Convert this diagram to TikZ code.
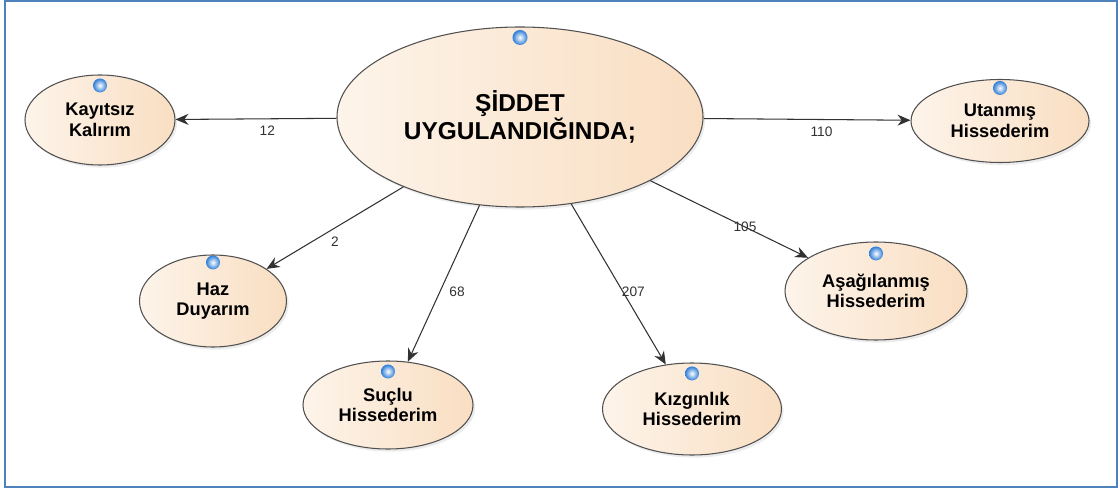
\documentclass[tikz,border=0pt]{standalone}
\usepackage{fontspec}
\setmainfont{Liberation Sans}
\usepackage{tikz}
\usetikzlibrary{shapes, arrows.meta, positioning, shadows}
\definecolor{peachlight}{RGB}{253,244,234}
\definecolor{peachdark}{RGB}{249,222,194}
\definecolor{rimgray}{RGB}{80,80,80}
\definecolor{linkgray}{RGB}{50,50,50}
\definecolor{frameblue}{RGB}{79,129,189}
\definecolor{ballblue}{RGB}{45,125,215}
\tikzstyle{centre} = [ellipse, inner sep=0pt, minimum width=7.32cm, minimum height=3.6cm, text centered, align=center, draw=rimgray, line width=0.6pt, left color=peachlight, right color=peachdark, drop shadow={opacity=0.15, shadow xshift=1.2pt, shadow yshift=-1.5pt}, font=\fontsize{13.9}{16}\selectfont\bfseries]
\tikzstyle{feeling} = [ellipse, inner sep=0pt, text centered, align=center, draw=rimgray, line width=0.6pt, left color=peachlight, right color=peachdark, drop shadow={opacity=0.15, shadow xshift=1.2pt, shadow yshift=-1.5pt}, font=\fontsize{10.4}{11.8}\selectfont\bfseries]
\tikzstyle{link} = [-{Stealth[length=2.6mm, width=2.2mm]}, draw=linkgray, line width=0.6pt]
\tikzstyle{count} = [inner sep=1pt, text=linkgray, font=\fontsize{7.8}{9}\selectfont]
\tikzstyle{bead} = [inner color=white, outer color=ballblue]

\begin{document}
\begin{tikzpicture}[node distance=4cm]
\useasboundingbox (-10.4,2.34) rectangle (11.98,-7.48);
\draw[frameblue, line width=1.2pt] (-10.3,2.32) rectangle (11.94,-7.4);
\node (main) [centre] at (0,0) {ŞİDDET\\UYGULANDIĞINDA;};
\node (kayitsiz) [feeling, minimum width=3.0cm, minimum height=1.8cm, below of=main, xshift=-8.4cm, yshift=3.94cm] {Kayıtsız\\Kalırım};
\node (utanmis) [feeling, minimum width=3.56cm, minimum height=1.66cm, below of=main, xshift=9.6cm, yshift=3.92cm] {Utanmış\\Hissederim};
\node (haz) [feeling, minimum width=2.94cm, minimum height=1.84cm, below of=main, xshift=-6.14cm, yshift=0.32cm] {Haz\\Duyarım};
\node (suclu) [feeling, minimum width=3.4cm, minimum height=1.76cm, below of=main, xshift=-2.64cm, yshift=-1.76cm] {Suçlu\\Hissederim};
\node (kizginlik) [feeling, minimum width=3.58cm, minimum height=1.84cm, below of=main, xshift=3.44cm, yshift=-1.84cm] {Kızgınlık\\Hissederim};
\node (asagilanmis) [feeling, minimum width=3.64cm, minimum height=1.96cm, below of=main, xshift=7.12cm, yshift=0.52cm] {Aşağılanmış\\Hissederim};
% blue balls on top of each ellipse
\shade[bead] ([yshift=-0.22cm]main.north) circle (0.15cm);
\shade[bead] ([yshift=-0.22cm]kayitsiz.north) circle (0.14cm);
\shade[bead] ([yshift=-0.18cm]utanmis.north) circle (0.14cm);
\shade[bead] ([yshift=-0.16cm]haz.north) circle (0.14cm);
\shade[bead] ([yshift=-0.22cm]suclu.north) circle (0.14cm);
\shade[bead] ([yshift=-0.22cm]kizginlik.north) circle (0.14cm);
\shade[bead] ([yshift=-0.24cm]asagilanmis.north) circle (0.14cm);
% counts on the links
\draw[link] (main) -- node[count, pos=0.43, below=3pt] {12} (kayitsiz);
\draw[link] (main) -- node[count, pos=0.57, below=3pt] {110} (utanmis);
\draw[link] (main) -- node[count, pos=0.5, below=4pt] {2} (haz);
\draw[link] (main) -- node[count, pos=0.55, right=4pt] {68} (suclu);
\draw[link] (main) -- node[count, pos=0.55, right=-2pt] {207} (kizginlik);
\draw[link] (main) -- node[count, pos=0.6] {105} (asagilanmis);
\end{tikzpicture}
\end{document}
